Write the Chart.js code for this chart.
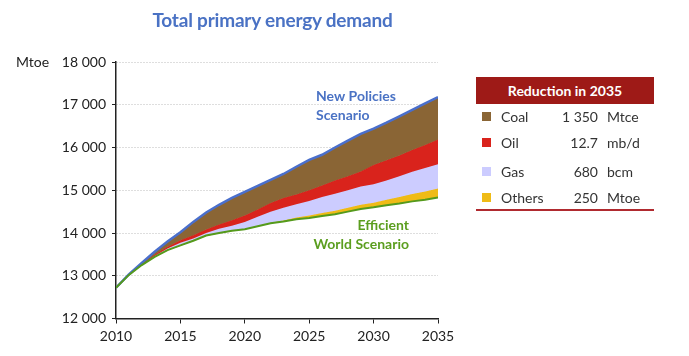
<!DOCTYPE html>
<html>
<head>
<meta charset="utf-8">
<script src="https://cdn.jsdelivr.net/npm/chart.js@4/dist/chart.umd.min.js"></script>
<style>
  html, body { margin: 0; padding: 0; background: #fff; }
  #wrap { position: relative; width: 689px; height: 356px; overflow: hidden; font-family: Lato, "Open Sans", sans-serif; }
  canvas { position: absolute; left: 0; top: 0; }
  .title { position: absolute; left: 0; width: 545px; top: 8px; text-align: center; font-weight: bold; font-size: 19px; color: #4a72c4; letter-spacing: -0.2px; }
  .hdr { position: absolute; left: 476px; top: 77px; width: 178px; height: 27px; background: #9e1a17; color: #fff; font-weight: bold; font-size: 14px; line-height: 27px; text-align: center; }
  .row { position: absolute; left: 476px; width: 178px; height: 20px; font-size: 14px; color: #333; line-height: 20px; }
  .sw { position: absolute; left: 6px; top: 5px; width: 9px; height: 9px; }
  .nm { position: absolute; left: 25px; }
  .val { position: absolute; right: 56px; text-align: right; }
  .unit { position: absolute; left: 131px; }
  .rule { position: absolute; left: 476px; top: 209px; width: 178px; height: 2px; background: #b02a2f; }
</style>
</head>
<body>
<div id="wrap">
  <canvas id="c" width="689" height="356"></canvas>
  <div class="title">Total primary energy demand</div>
  <div id="legend"></div>
</div>
<script>
// ---- data ----
const years = [2010,2011,2012,2013,2014,2015,2016,2017,2018,2019,2020,2021,2022,2023,2024,2025,2026,2027,2028,2029,2030,2031,2032,2033,2034,2035];
// New Policies Scenario total (top of coal wedge)
const newPolicies = [12720,13030,13300,13560,13800,14020,14260,14480,14660,14820,14960,15100,15240,15380,15550,15710,15830,16000,16160,16320,16440,16580,16730,16880,17030,17180];
// top of oil wedge
const oilTop = [12720,13028,13270,13490,13680,13830,13950,14080,14200,14300,14410,14550,14700,14820,14900,15000,15110,15230,15330,15440,15590,15700,15810,15940,16060,16190];
// top of gas wedge
const gasTop = [12720,13025,13260,13460,13640,13770,13870,14000,14100,14170,14260,14380,14500,14590,14670,14750,14840,14920,15000,15090,15140,15230,15330,15430,15520,15610];
// top of others wedge
const othersTop = [12720,13020,13250,13440,13600,13710,13820,13940,14000,14055,14095,14165,14240,14290,14360,14410,14470,14520,14590,14660,14710,14780,14840,14910,14970,15040];
// Efficient World Scenario total
const efficientWorld = [12720,13020,13250,13440,13600,13710,13820,13940,14000,14050,14090,14160,14230,14270,14320,14350,14400,14440,14500,14560,14600,14650,14690,14740,14780,14830];

const xTicks = [2010,2015,2020,2025,2030,2035];
const yTicks = [12000,13000,14000,15000,16000,17000,18000];

const legendItems = ["Coal","Oil","Gas","Others"];
const legendValues = ["1 350","12.7","680","250"];
const legendUnits = ["Mtce","mb/d","bcm","Mtoe"];
const legendColors = ["#8a6535","#d9231c","#ccccff","#efbb16"];
const legendRowsY = [107,133,162,188];

// ---- legend (HTML) ----
const lg = document.getElementById('legend');
let html = '<div class="hdr">Reduction in 2035</div>';
legendItems.forEach((n,i)=>{
  html += '<div class="row" style="top:'+legendRowsY[i]+'px"><span class="sw" style="background:'+legendColors[i]+'"></span><span class="nm">'+n+'</span><span class="val">'+legendValues[i]+'</span><span class="unit">'+legendUnits[i]+'</span></div>';
});
html += '<div class="rule"></div>';
lg.innerHTML = html;

const pts = arr => years.map((y,i)=>({x:y, y:arr[i]}));
const fmt = v => String(v).replace(/\B(?=(\d{3})+(?!\d))/g,' ');

const labelsPlugin = {
  id: 'labels',
  afterDraw(chart) {
    const ctx = chart.ctx;
    ctx.save();
    ctx.textBaseline = 'middle';
    ctx.font = '14px Lato, "Open Sans", sans-serif';
    ctx.fillStyle = '#222';
    ctx.textAlign = 'left';
    ctx.fillText('Mtoe', 16, 62);
    ctx.font = 'bold 14px Lato, "Open Sans", sans-serif';
    ctx.fillStyle = '#4a72c4';
    ctx.fillText('New Policies', 316, 96);
    ctx.fillText('Scenario', 316, 115);
    ctx.fillStyle = '#5b9e1f';
    ctx.textAlign = 'right';
    ctx.fillText('Efficient', 409, 225);
    ctx.fillText('World Scenario', 409, 244);
    ctx.restore();
  }
};

const area = (label, data, color, fillTo) => ({
  label, data: pts(data), borderColor: color, backgroundColor: color,
  borderWidth: 1, pointRadius: 0, fill: fillTo, tension: 0
});

new Chart(document.getElementById('c'), {
  type: 'line',
  data: {
    datasets: [
      { label: 'Efficient World Scenario', data: pts(efficientWorld), borderColor: '#559a1c', borderWidth: 2, pointRadius: 0, fill: false, tension: 0 },
      { label: 'New Policies Scenario', data: pts(newPolicies), borderColor: '#4a6fcc', backgroundColor: '#8a6535', borderWidth: 2.5, pointRadius: 0, fill: 2, tension: 0 },
      area('Oil', oilTop, '#d9231c', 3),
      area('Gas', gasTop, '#ccccff', 4),
      area('Others', othersTop, '#efbb16', 0)
    ]
  },
  options: {
    responsive: false,
    animation: false,
    layout: { padding: { top: 62, right: 251, bottom: 0, left: 0 } },
    plugins: { legend: { display: false }, tooltip: { enabled: false } },
    scales: {
      x: {
        type: 'linear', min: 2010, max: 2035,
        afterBuildTicks: s => { s.ticks = xTicks.map(v=>({value:v})); },
        afterFit: s => { s.height = 37.5; },
        grid: { drawOnChartArea: false, drawTicks: true, tickLength: 5, tickColor: '#222' },
        border: { display: true, color: '#222', width: 1.5 },
        ticks: { padding: 5, color: '#222', font: { family: 'Lato, "Open Sans", sans-serif', size: 14 }, callback: v => String(v), maxRotation: 0 }
      },
      y: {
        min: 12000, max: 18000,
        afterBuildTicks: s => { s.ticks = yTicks.map(v=>({value:v})); },
        afterFit: s => { s.width = 116; },
        grid: { color: '#bdbdbd', lineWidth: 1, drawTicks: true, tickLength: 4, tickColor: '#222' },
        border: { display: true, color: '#222', width: 1.5, dash: [1,2] },
        ticks: { padding: 6, color: '#222', font: { family: 'Lato, "Open Sans", sans-serif', size: 14 }, callback: v => fmt(v) }
      }
    }
  },
  plugins: [labelsPlugin]
});
</script>
</body>
</html>
